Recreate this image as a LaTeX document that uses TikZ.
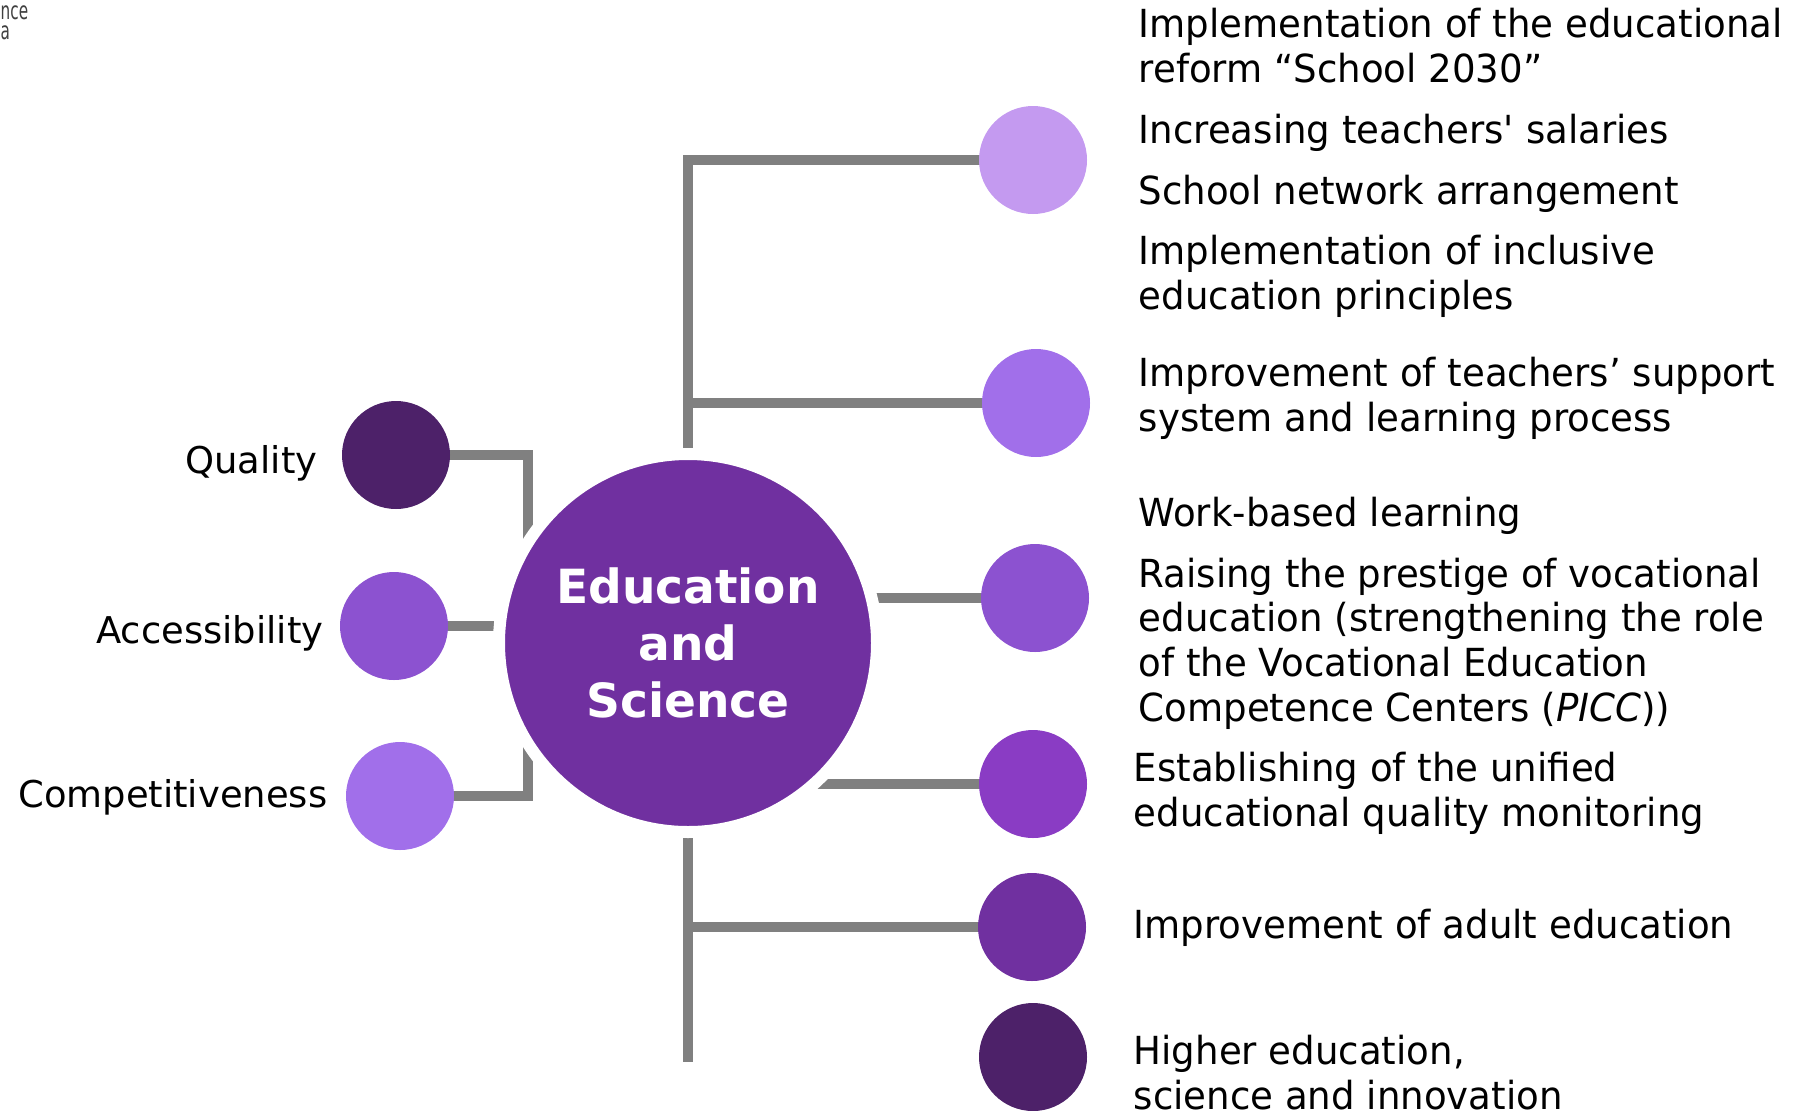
\documentclass[tikz,border=0pt]{standalone}
\usepackage{fontspec}
\setmainfont{DejaVu Sans}
\newfontfamily\itemfont[FakeStretch=0.96]{DejaVu Sans}
\usetikzlibrary{positioning,backgrounds}
\definecolor{darkpurple}{HTML}{4D2169}
\definecolor{mainpurple}{HTML}{7030A0}
\definecolor{brightpurple}{HTML}{8A3CC4}
\definecolor{midpurple}{HTML}{8C52D0}
\definecolor{lightpurple}{HTML}{A16FEA}
\definecolor{palepurple}{HTML}{C49AF0}
\definecolor{linkgray}{HTML}{808080}
\tikzset{bubble/.style={circle,inner sep=0pt,minimum size=10.8mm}}
\tikzset{hub/.style={circle,fill=mainpurple,draw=white,line width=1.2mm,
                     minimum size=37.8mm,inner sep=0pt,text=white,align=center,
                     font=\fontsize{13.4}{16.3}\selectfont\bfseries}}
\tikzset{link/.style={draw=linkgray,line width=0.95mm,line join=miter}}
\tikzset{item/.style={anchor=base west,align=left,inner sep=0pt,
                      font=\itemfont\fontsize{11}{12.7}\selectfont}}
\tikzset{goal/.style={anchor=base east,inner sep=0pt,
                      font=\fontsize{10.5}{12.6}\selectfont}}
\tikzset{cut/.style={anchor=base west,inner sep=0pt,text=darkgray,
                     font=\fontsize{7}{8}\selectfont}}

\begin{document}
\begin{tikzpicture}[x=0.1mm,y=-0.1mm]
    \useasboundingbox (0,0) rectangle (1794,1110);

    \node[cut] (cut1) at (0,19) {\scalebox{0.62}[1]{nce}};
    \node[cut] (cut2) at (0,39) {\scalebox{0.62}[1]{a}};

    \node[hub] (hub) at (688,643) {Education\\and\\Science};

    \node[bubble,fill=darkpurple] (quality) at (396,455) {};
    \node[goal] (qlabel) at (318,473) {Quality};
    \node[bubble,fill=midpurple] (access) at (394,626) {};
    \node[goal] (alabel) at (324,643) {Accessibility};
    \node[bubble,fill=lightpurple] (compet) at (400,796) {};
    \node[goal] (clabel) at (328,807) {Competitiveness};

    \node[bubble,fill=palepurple] (r1) at (1033,160) {};
    \node[bubble,fill=lightpurple] (r2) at (1036,403) {};
    \node[bubble,fill=midpurple] (r3) at (1035,598) {};
    \node[bubble,fill=brightpurple] (r4) at (1033,784) {};
    \node[bubble,fill=mainpurple] (r5) at (1032,927) {};
    \node[bubble,fill=darkpurple] (r6) at (1033,1057) {};

    % multi-line items sit on their last baseline
    \node[item] (t1) at (1138,82) {Implementation of the educational\\reform “School 2030”};
    \node[item] (t2) at (1138,143) {Increasing teachers\textquotesingle{} salaries};
    \node[item] (t3) at (1138,204) {School network arrangement};
    \node[item] (t4) at (1138,309) {Implementation of inclusive\\education principles};
    \node[item] (t5) at (1138,431) {Improvement of teachers’ support\\system and learning process};
    \node[item] (t6) at (1138,526) {Work-based learning};
    \node[item] (t7) at (1138,721) {Raising the prestige of vocational\\education (strengthening the role\\of the Vocational Education\\Competence Centers (\textit{PICC}))};
    \node[item] (t8) at (1133,826) {Establishing of the unified\\educational quality monitoring};
    \node[item] (t9) at (1133,938) {Improvement of adult education};
    \node[item] (t10) at (1133,1109) {Higher education,\\science and innovation};

    \coordinate (lstem) at (528,643);
    \coordinate (tail) at (688,1062);

    % connectors go under the circles
    \begin{scope}[on background layer]
    \draw[link] (quality.center) -| (lstem);
    \draw[link] (compet.center) -| (lstem);
    \draw[link] (access.center) -- (access.center -| hub.center);
    \draw[link] (r1.center) -| (hub.center);
    \draw[link] (r2.center) -- (r2.center -| hub.center);
    \draw[link] (r3.center) -- (r3.center -| hub.center);
    \draw[link] (r4.center) -- (r4.center -| hub.center);
    \draw[link] (r5.center) -- (r5.center -| hub.center);
    \draw[link] (hub.center) -- (tail);
    \end{scope}

\end{tikzpicture}
\end{document}
